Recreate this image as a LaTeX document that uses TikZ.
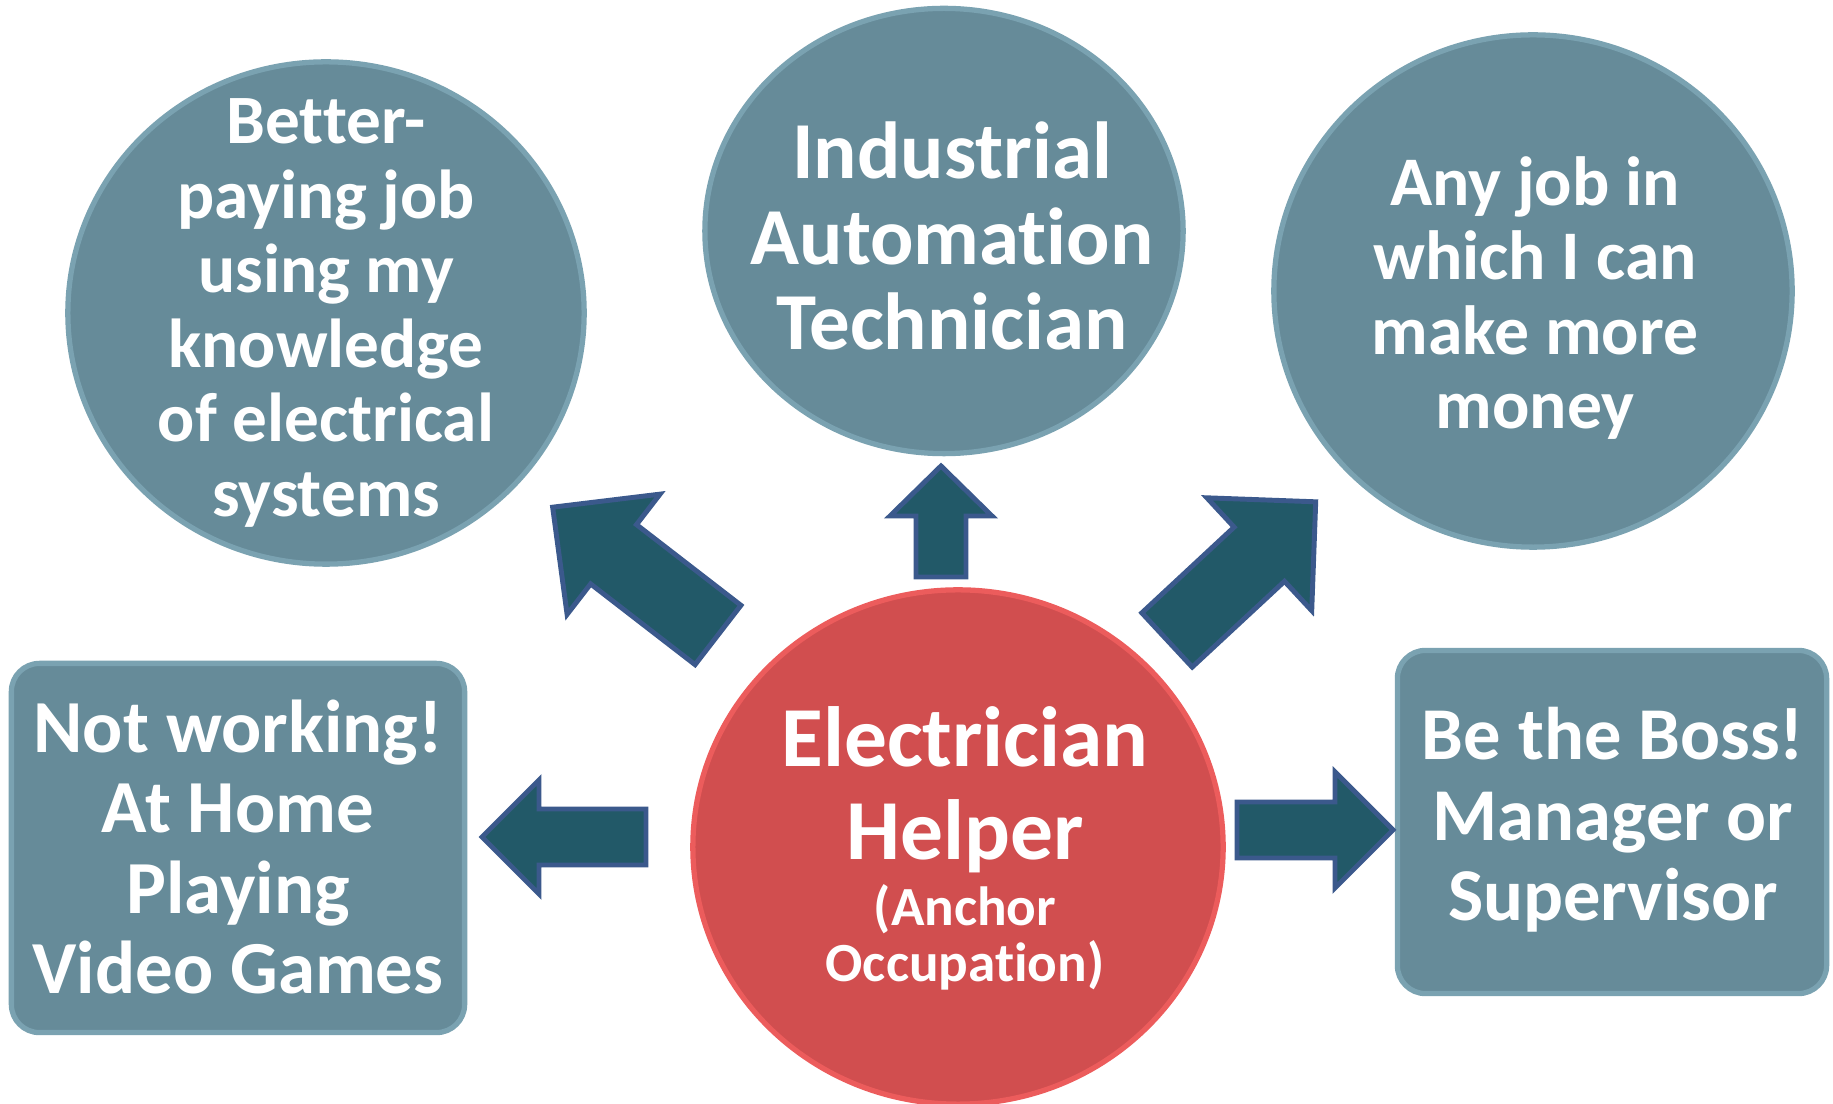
\documentclass[tikz,border=0pt]{standalone}
\usepackage{fontspec}
\setmainfont{Carlito}[Ligatures={NoCommon}]
\usetikzlibrary{shapes.geometric}
\definecolor{jobfill}{RGB}{102,139,153}
\definecolor{jobrim}{RGB}{122,162,177}
\definecolor{hubfill}{RGB}{209,78,79}
\definecolor{hubrim}{RGB}{236,92,92}
\definecolor{arrowfill}{RGB}{34,89,104}
\definecolor{arrowrim}{RGB}{59,89,140}
\newcommand{\jobfont}[2]{\fontsize{#1}{#2}\selectfont\bfseries}
% tail, angle, length, shaft half width, head half width, head length
\newcommand{\blockarrow}[6]{%
  \begin{scope}[shift={#1}, rotate=#2]
    \draw[blockarrow] (0,-#4) -- ({#3-#6},-#4) -- ({#3-#6},-#5) -- (#3,0)
      -- ({#3-#6},#5) -- ({#3-#6},#4) -- (0,#4) -- cycle;
  \end{scope}}
\tikzset{
  bubble/.style={ellipse, fill=jobfill, draw=jobrim, line width=1.5pt, inner sep=0pt},
  anchorjob/.style={ellipse, fill=hubfill, draw=hubrim, line width=1.5pt, inner sep=0pt},
  optbox/.style={rectangle, rounded corners=8pt, fill=jobfill, draw=jobrim, line width=1.5pt},
  words/.style={text=white, align=center, inner sep=0pt},
  blockarrow/.style={fill=arrowfill, draw=arrowrim, line width=1.4pt, line join=miter}
}
\begin{document}
\begin{tikzpicture}[x=0.01cm, y=0.01cm]
    \useasboundingbox (0,0) rectangle (1833,-1104);

    % the jobs
    \node[bubble, minimum width=5.16cm, minimum height=5.02cm] at (326,-313) (better) {};
    \node[words, font=\jobfont{19.7}{21.2}] at (326,-313) (bettertext) {Better-\\paying job\\using my\\knowledge\\of electrical\\systems};

    \node[bubble, minimum width=4.78cm, minimum height=4.45cm] at (944,-231) (automation) {};
    \node[words, font=\jobfont{23}{24.2}] at (952,-236) (automationtext) {Industrial\\Automation\\Technician};

    \node[bubble, minimum width=5.18cm, minimum height=5.12cm] at (1533,-291) (anyjob) {};
    \node[words, font=\jobfont{19.8}{21.2}] at (1535,-298) (anyjobtext) {Any job in\\which I can\\make more\\money};

    \node[optbox, minimum width=4.53cm, minimum height=3.69cm] at (238,-848) (home) {};
    \node[words, font=\jobfont{21.3}{22.9}] at (238,-847) (hometext) {Not working!\\At Home\\Playing\\Video Games};

    \node[optbox, minimum width=4.29cm, minimum height=3.43cm] at (1612,-822) (boss) {};
    \node[words, font=\jobfont{21.2}{22.9}] at (1613,-820) (bosstext) {Be the Boss!\\Manager or\\Supervisor};

    % the anchor
    \node[anchorjob, minimum width=5.30cm, minimum height=5.14cm] at (958,-847) (helper) {};
    \node[words, font=\jobfont{24.3}{26.5}] at (965,-790) (helpertext) {Electrician\\Helper};
    \node[words, font=\jobfont{15.7}{15.9}] at (965,-937) (anchortext) {(Anchor\\Occupation)};

    % block arrows
    \blockarrow{(718,-635)}{142.3}{209}{37.5}{76}{77}
    \blockarrow{(941,-577)}{90}{111}{25}{51}{50}
    \blockarrow{(1167,-640)}{42.9}{203}{37}{77}{77}
    \blockarrow{(646,-837)}{180}{164}{28}{57}{57}
    \blockarrow{(1237,-830)}{0}{156}{28}{58}{58}
\end{tikzpicture}
\end{document}
